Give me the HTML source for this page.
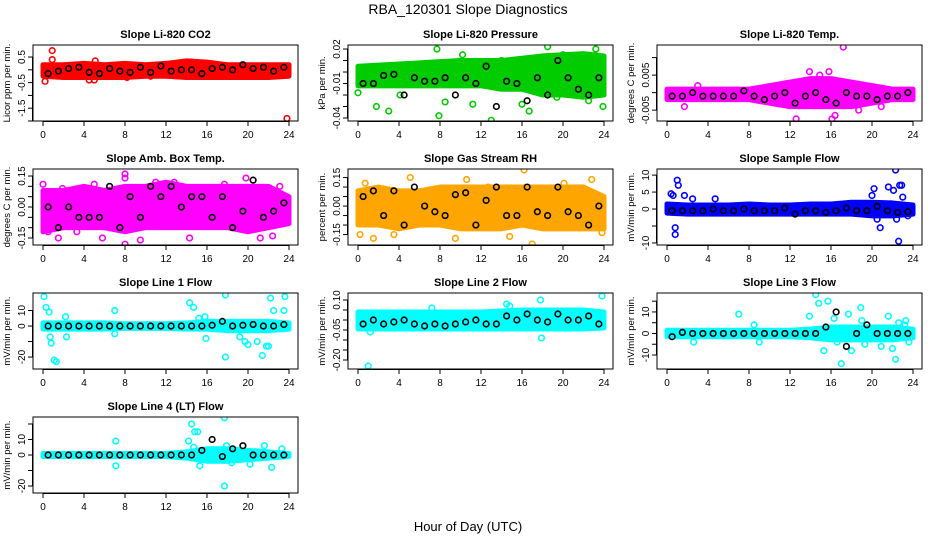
<!DOCTYPE html>
<html><head><meta charset="utf-8"><style>
body{margin:0;background:#fff}
svg{display:block;font-family:"Liberation Sans",sans-serif}
</style></head><body>
<svg id="chart" width="936" height="540" viewBox="0 0 936 540">
<text x="468" y="14" text-anchor="middle" font-size="14">RBA_120301  Slope Diagnostics</text>
<text x="468" y="531" text-anchor="middle" font-size="13">Hour of Day (UTC)</text>
</svg>
<script>
const xTicks=[0,4,8,12,16,20,24];
const bandHours=[0,2,4,6,8,10,12,14,16,18,20,22,24];
const blackHours=[0.5,1.5,2.5,3.5,4.5,5.5,6.5,7.5,8.5,9.5,10.5,11.5,12.5,13.5,14.5,15.5,16.5,17.5,18.5,19.5,20.5,21.5,22.5,23.5];

const co2Lo=[-0.25,-0.3,-0.3,-0.3,-0.3,-0.25,-0.25,-0.3,-0.3,-0.3,-0.3,-0.3,-0.25];
const co2Hi=[0.2,0.2,0.25,0.2,0.25,0.2,0.25,0.35,0.3,0.2,0.2,0.2,0.2];
const co2Black=[-0.15,-0.05,0.05,0.1,-0.1,-0.15,0.05,-0.05,-0.1,0.1,-0.1,0.15,-0.05,0,0,-0.15,0.05,0.1,0,0.2,0.05,0.1,-0.05,0.1];
const co2OutX=[0.2,0.9,0.9,4.5,5.0,5.4,5.1,8.2,2.7,10.5,14.5,23.8];
const co2OutY=[-0.45,0.75,0.4,-0.4,-0.4,-0.25,0.35,-0.3,-0.25,-0.25,0.3,-1.9];

const presLo=[-0.012,-0.012,-0.012,-0.012,-0.012,-0.012,-0.012,-0.015,-0.015,-0.02,-0.02,-0.022,-0.02];
const presHi=[0.005,0.006,0.007,0.008,0.009,0.01,0.01,0.01,0.012,0.014,0.015,0.016,0.014];
const presBlack=[-0.01,-0.01,-0.003,-0.002,-0.02,-0.005,-0.008,-0.008,-0.005,-0.02,-0.005,-0.01,0.005,-0.03,-0.008,-0.01,-0.025,-0.005,-0.02,0.01,-0.005,-0.015,-0.02,-0.005];
const presOutX=[0,1.8,3,4.1,7.7,7.9,8.5,11.2,13,16,16.7,18.5,19.4,22.5,23.9,20,23.2,14,10.2];
const presOutY=[-0.018,-0.03,-0.034,-0.02,0.02,-0.038,-0.026,-0.028,-0.042,-0.028,-0.034,0.022,-0.022,-0.025,-0.03,0.015,0.02,0.01,0.015];

const tempLo=[-0.002,-0.002,-0.002,-0.002,-0.002,-0.003,-0.004,-0.004,-0.004,-0.004,-0.003,-0.002,-0.002];
const tempHi=[0.001,0.001,0.001,0.001,0.001,0.002,0.003,0.004,0.004,0.003,0.002,0.001,0.001];
const tempBlack=[-0.001,-0.001,0,-0.001,-0.001,-0.001,-0.001,0.0005,-0.001,-0.002,-0.001,0,-0.003,-0.001,0,-0.002,-0.003,0,-0.001,-0.001,-0.002,-0.001,-0.001,0];
const tempOutX=[17.2,13.9,12.6,16.1,16.4,1.7,3,20.9,18.7,15.8,14.9];
const tempOutY=[0.013,0.006,-0.0075,-0.0075,-0.0065,-0.004,0.002,-0.004,-0.005,0.006,0.005];

const ambLo=[-0.12,-0.1,-0.1,-0.1,-0.12,-0.1,-0.1,-0.1,-0.1,-0.1,-0.12,-0.1,-0.08];
const ambHi=[0.08,0.08,0.1,0.08,0.1,0.1,0.12,0.1,0.1,0.1,0.1,0.1,0.05];
const ambBlack=[0,-0.1,0,-0.05,-0.05,-0.05,0.1,-0.1,0.05,-0.05,0.1,0.05,0.1,0,0.05,0.05,-0.05,0.05,-0.1,-0.02,0.13,-0.05,-0.02,0.02];
const ambOutX=[0,0.5,1.5,3.3,5,5.8,8,8,8,9.5,11,12.8,14.3,17.7,19.8,21.2,22.4,23.1,1.9];
const ambOutY=[0.11,-0.12,-0.15,-0.12,0.11,-0.15,0.16,-0.18,0.14,-0.16,0.12,0.12,-0.15,0.11,0.14,-0.15,-0.14,0.1,0.09];

const rhLo=[-0.1,-0.1,-0.12,-0.1,-0.1,-0.12,-0.12,-0.12,-0.1,-0.12,-0.12,-0.12,-0.12];
const rhHi=[0.08,0.1,0.08,0.08,0.1,0.1,0.1,0.1,0.1,0.1,0.1,0.1,0.05];
const rhBlack=[0.05,0.08,-0.05,0.08,-0.1,0.1,0,-0.03,-0.05,0.06,0.07,-0.1,0.03,0.1,-0.05,-0.05,0.1,-0.03,-0.05,0.1,-0.03,-0.05,-0.1,0];
const rhOutX=[0.2,1.5,3.5,5.1,9.5,12.7,14.8,16.2,17,20.1,22.8,23.8,0.7,10.6];
const rhOutY=[-0.15,-0.17,-0.15,0.15,-0.17,0.1,-0.16,0.19,-0.2,0.12,0.14,-0.14,0.12,0.14];

const sampLo=[-1.2,-1.5,-1.5,-1.5,-1.5,-1.5,-1.5,-1.5,-1.5,-1.5,-2,-2,-1.5];
const sampHi=[1.5,1.2,1.2,1.2,1.5,1.2,1.2,1.5,1.5,2,2,1.8,1.2];
const sampBlack=[-0.5,-0.5,-0.5,-0.5,0,-0.5,-0.5,0,-0.5,-0.5,-0.5,0.3,-1.5,-0.5,-0.5,-1,-0.5,0.3,-0.5,-0.5,0.8,-0.5,-1,-0.8];
const sampOutX=[0.4,0.8,0.8,1,1.1,1.7,0.6,2.5,4.7,20,20.2,20.8,21.6,22.1,22.3,22.7,22.9,22.6,23,23.5,20.5,22.4];
const sampOutY=[4.5,-7.5,-5.5,8.5,7,4,4,3,3,4,6,-5.5,6.5,5.5,11.5,7,7,-9.5,3.5,-2,-3,-3];

const l1Lo=[-2,-2,-2,-2,-1.5,-1.5,-1.5,-2,-2,-3,-3,-3,-2];
const l1Hi=[2,2,2,2,1.5,1.5,1.5,2,3,3,3,3,2];
const l1Black=[0,0,0,0,0,0,0,0,0,0,0,0,0,0,0,0,0.5,3,0,0.5,1,0,0,1];
const l1OutX=[0.1,0.3,0.6,0.7,0.8,1.1,1.3,2.3,2.2,7,7,14.3,14.7,15.2,15.8,17.8,17.8,19.2,19.7,20,20.9,21.4,21.8,22,22.2,22.5,23.5,23.6,15.9];
const l1OutY=[19,12,9,-7,-11,-22,-23,-7,6,10,-5,15,12,5,6,20,-20,-7,-10,-12,-10,-19,-13,-13,18,10,10,19,-8];

const l2Lo=[-0.045,-0.045,-0.045,-0.045,-0.045,-0.045,-0.045,-0.045,-0.045,-0.045,-0.045,-0.045,-0.04];
const l2Hi=[0.04,0.04,0.04,0.04,0.04,0.04,0.04,0.045,0.05,0.05,0.05,0.05,0.04];
const l2Black=[-0.02,0,-0.02,-0.01,0,-0.02,-0.03,-0.02,-0.03,-0.02,-0.01,0,-0.02,-0.02,0.02,0,0.03,0,-0.01,0.03,0,0,0.02,-0.02];
const l2OutX=[1.0,1.2,0.5,7.2,14.5,14.8,17.8,17.9,20.9,23.8];
const l2OutY=[-0.23,-0.06,0.03,0.06,0.08,0.07,0.1,-0.09,-0.04,0.12];

const l3Lo=[-1.5,-1.5,-1.5,-1.5,-1.5,-1.5,-1.5,-2,-3,-3,-3,-3,-2];
const l3Hi=[1.5,1.5,1.5,1.5,1.5,1.5,1.5,2,3,3,3,3,2];
const l3Black=[-1.5,0.5,0,0,0,0,0,0,0,0,0,0,0,0,0,3,10,-6,0,4,0,0,0,0];
const l3OutX=[2.6,7,8.5,9,13.9,14.5,14.8,15.3,15.7,16.3,16.6,17,17.7,18,18.9,19,19.3,21.6,22,22.3,22.6,23.3,23.6,23.2,20.9,12.3];
const l3OutY=[-4,9,4,-4,8,18,14,-8,15,7,-4,-14,9,-8,12,6,-5,8,-7,-12,5,6,-4,4,-6,0];

const l4Lo=[-1,-1,-1,-1,-1,-1,-1,-2,-4,-4,-3,-2,-1];
const l4Hi=[1,1,1,1,1,1,1,2,4,4,3,2,1];
const l4Black=[0,0,0,0,0,0,0,0,0,0,0,0,0,0,0,3,10,-1,4,6,0,0,0,0];
const l4OutX=[7.1,7.1,14.2,14.5,14.8,15.3,15.1,17.7,17.7,17.9,18.4,19.2,20.2,21.6,22.3,23.3,14.7];
const l4OutY=[9,-7,9,20,15,-7,15,24,-20,6,-5,-3,-6,6,-8,4,5];

const panels=[
 {id:'co2',title:'Slope Li-820 CO2',ylab:'Licor ppm per min.',col:'#ff0000',cx:33,cy:45,ymin:-2.0,ymax:0.97,ticks:[-2,-1.5,-1,-0.5,0,0.5],tl:['','-1.5','','-0.5','','0.5'],lo:co2Lo,hi:co2Hi,blk:co2Black,ox:co2OutX,oy:co2OutY},
 {id:'pressure',title:'Slope Li-820 Pressure',ylab:'kPa per min.',col:'#00cc00',cx:348,cy:45,ymin:-0.0426,ymax:0.0235,ticks:[-0.04,-0.03,-0.02,-0.01,0,0.01,0.02],tl:['-0.04','','','-0.01','','','0.02'],lo:presLo,hi:presHi,blk:presBlack,ox:presOutX,oy:presOutY},
 {id:'temp',title:'Slope Li-820 Temp.',ylab:'degrees C per min.',col:'#ff00ff',cx:657,cy:45,ymin:-0.0081,ymax:0.0136,ticks:[-0.005,0,0.005,0.01],tl:['-0.005','','0.005',''],lo:tempLo,hi:tempHi,blk:tempBlack,ox:tempOutX,oy:tempOutY},
 {id:'amb-box-temp',title:'Slope Amb. Box Temp.',ylab:'degrees C per min.',col:'#ff00ff',cx:33,cy:169,ymin:-0.184,ymax:0.184,ticks:[-0.15,-0.1,-0.05,0,0.05,0.1,0.15],tl:['-0.15','','','0.00','','','0.15'],lo:ambLo,hi:ambHi,blk:ambBlack,ox:ambOutX,oy:ambOutY},
 {id:'gas-stream-rh',title:'Slope Gas Stream RH',ylab:'percent per min.',col:'#ffa500',cx:348,cy:169,ymin:-0.205,ymax:0.195,ticks:[-0.15,-0.1,-0.05,0,0.05,0.1,0.15],tl:['-0.15','','','0.00','','','0.15'],lo:rhLo,hi:rhHi,blk:rhBlack,ox:rhOutX,oy:rhOutY},
 {id:'sample-flow',title:'Slope Sample Flow',ylab:'mV/min per min.',col:'#0000ff',cx:657,cy:169,ymin:-10.6,ymax:11.8,ticks:[-10,-5,0,5,10],tl:['-10','','0','5','10'],lo:sampLo,hi:sampHi,blk:sampBlack,ox:sampOutX,oy:sampOutY},
 {id:'line1-flow',title:'Slope Line 1 Flow',ylab:'mV/min per min.',col:'#00ffff',cx:33,cy:293,ymin:-27.7,ymax:21.3,ticks:[-20,-10,0,10],tl:['-20','','0','10'],lo:l1Lo,hi:l1Hi,blk:l1Black,ox:l1OutX,oy:l1OutY},
 {id:'line2-flow',title:'Slope Line 2 Flow',ylab:'mV/min per min.',col:'#00ffff',cx:348,cy:293,ymin:-0.245,ymax:0.135,ticks:[-0.2,-0.15,-0.1,-0.05,0,0.05,0.1],tl:['-0.20','','','-0.05','','','0.10'],lo:l2Lo,hi:l2Hi,blk:l2Black,ox:l2OutX,oy:l2OutY},
 {id:'line3-flow',title:'Slope Line 3 Flow',ylab:'mV/min per min.',col:'#00ffff',cx:657,cy:293,ymin:-16.5,ymax:18.8,ticks:[-10,-5,0,5,10,15],tl:['-10','','0','','10',''],lo:l3Lo,hi:l3Hi,blk:l3Black,ox:l3OutX,oy:l3OutY},
 {id:'line4-flow',title:'Slope Line 4 (LT) Flow',ylab:'mV/min per min.',col:'#00ffff',cx:33,cy:417,ymin:-24.5,ymax:24.5,ticks:[-20,-10,0,10,20],tl:['-20','','0','10',''],lo:l4Lo,hi:l4Hi,blk:l4Black,ox:l4OutX,oy:l4OutY}
];
const NS='http://www.w3.org/2000/svg';
const svg=document.getElementById('chart');
function mk(tag,attrs,parent){const e=document.createElementNS(NS,tag);for(const k in attrs)e.setAttribute(k,attrs[k]);(parent||svg).appendChild(e);return e;}
const W=265,H=76;
panels.forEach(p=>{
 const g=mk('g',{});
 
 
 const xs=h=>p.cx+10+h*10.25;
 const ys=v=>p.cy+H-(v-p.ymin)/(p.ymax-p.ymin)*H;
 const t=mk('text',{x:p.cx+W/2,y:p.cy-7,'text-anchor':'middle','font-size':11,'font-weight':'bold'},g);
 t.textContent=p.title;
 
 
 const cl=mk('clipPath',{id:'c-'+p.id},g);mk('rect',{x:p.cx,y:p.cy,width:W,height:H},cl);
 const pg=mk('g',{'clip-path':'url(#c-'+p.id+')'},g);
 // band
 let pts=bandHours.map((h,i)=>xs(h)+','+ys(p.hi[i]));
 pts=pts.concat(bandHours.slice().reverse().map((h,i)=>xs(h)+','+ys(p.lo[bandHours.length-1-i])));
 const band=mk('polygon',{points:pts.join(' '),fill:p.col,stroke:p.col,'stroke-width':5,'stroke-linejoin':'round'},pg);
 
 
 p.ox.forEach((x,i)=>{
  const c=mk('circle',{cx:xs(x),cy:ys(p.oy[i]),r:2.8,fill:'none',stroke:p.col,'stroke-width':1.6},pg);
  
  
 });
 blackHours.forEach((h,i)=>{
  const c=mk('circle',{cx:xs(h),cy:ys(p.blk[i]),r:2.8,fill:'none',stroke:'#000','stroke-width':1.6},pg);
  
  
 });
 const box=mk('rect',{x:p.cx,y:p.cy,width:W,height:H,fill:'none',stroke:'#000','stroke-width':1},g);
 
 
 // x axis
 const xb=p.cy+H;
 mk('line',{x1:xs(0),x2:xs(24),y1:xb+0.5,y2:xb+0.5,stroke:'#000'},g);
 xTicks.forEach(h=>{
  mk('line',{x1:xs(h),x2:xs(h),y1:xb,y2:xb+5,stroke:'#000'},g);
  const l=mk('text',{x:xs(h),y:xb+17,'text-anchor':'middle','font-size':10},g);
  l.textContent=h;
  
  
 });
 // y axis
 const y0=ys(p.ticks[0]),y1=ys(p.ticks[p.ticks.length-1]);
 mk('line',{x1:p.cx-0.5,x2:p.cx-0.5,y1:y0,y2:y1,stroke:'#000'},g);
 p.ticks.forEach((v,i)=>{
  const yy=ys(v);
  mk('line',{x1:p.cx-5,x2:p.cx,y1:yy,y2:yy,stroke:'#000'},g);
  if(p.tl[i]){
   const l=mk('text',{x:p.cx-8,y:yy,'text-anchor':'middle','font-size':10,transform:'rotate(-90 '+(p.cx-8)+' '+yy+')'},g);
   l.textContent=p.tl[i];
   
   
  }
 });
 const yl=mk('text',{x:p.cx-23,y:p.cy+H/2,'text-anchor':'middle','font-size':9.5,transform:'rotate(-90 '+(p.cx-23)+' '+(p.cy+H/2)+')'},g);
 yl.textContent=p.ylab;
 
 
});
</script>
</body></html>
